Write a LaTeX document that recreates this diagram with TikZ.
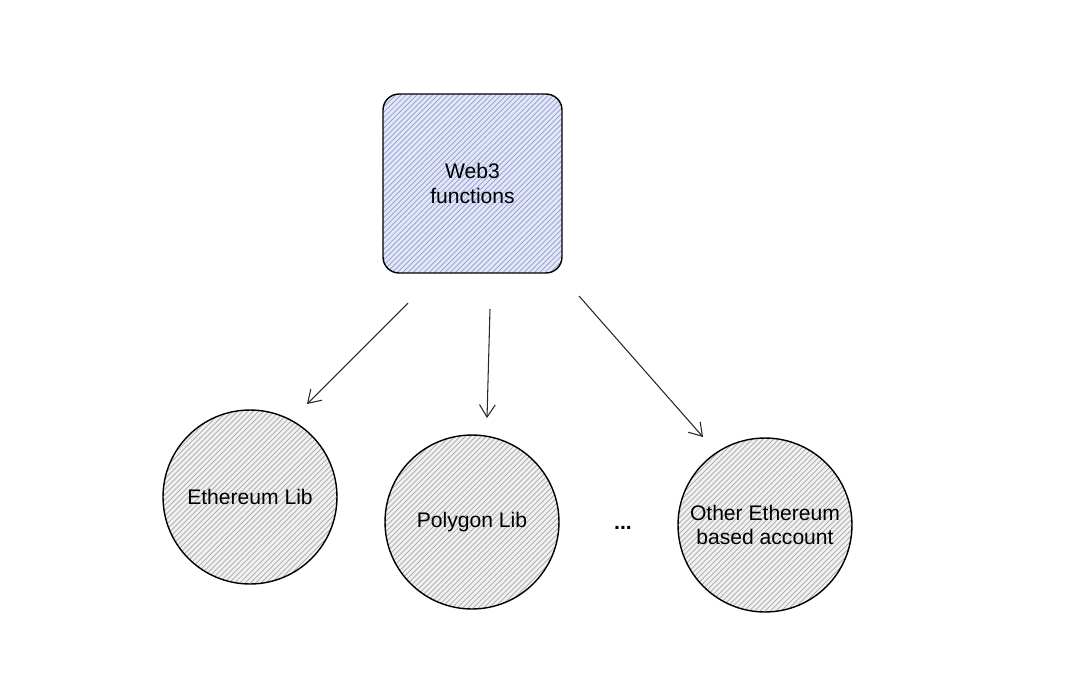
\documentclass[tikz,border=0pt]{standalone}
\usepackage{fontspec}
\setmainfont{Liberation Sans}
\usetikzlibrary{arrows.meta,patterns}

\definecolor{boxfill}{HTML}{E4E7F6}
\definecolor{boxhatch}{HTML}{8E9AD8}
\definecolor{libfill}{HTML}{F1F1F1}
\definecolor{libhatch}{HTML}{A8A8A8}

\begin{document}
\begin{tikzpicture}[
    x=0.02cm, y=-0.02cm,
    block/.style={draw, rounded corners=0.32cm, line width=0.8pt, minimum width=3.58cm, minimum height=3.58cm,
        align=center, preaction={fill=boxfill}, pattern=north east lines, pattern color=boxhatch},
    lib/.style={draw, circle, line width=0.8pt, minimum size=3.48cm, inner sep=1pt, align=center,
        preaction={fill=libfill}, pattern=north east lines, pattern color=libhatch},
    arrow/.style={-{Straight Barb[length=7pt,width=9pt]}, line width=0.6pt, draw=black!85}
]
\useasboundingbox (0,0) rectangle (1080,691);

\node[block, font=\large] (web3) at (472.5,183.5) {Web3\\functions};

\node[lib, font=\large] (eth) at (250,497) {Ethereum Lib};
\node[lib, font=\large] (poly) at (472,522) {Polygon Lib};
\node[lib, font=\large] (other) at (765,525) {Other Ethereum\\based account};
\node[font=\large\bfseries] (dots) at (623,528) {...};

% free ends of the arrows
\coordinate (a1) at (408,303);
\coordinate (b1) at (307,404);
\coordinate (a2) at (490,309);
\coordinate (b2) at (487,418);
\coordinate (a3) at (579,296);
\coordinate (b3) at (703,437);

\draw[arrow] (a1) -- (b1);
\draw[arrow] (a2) -- (b2);
\draw[arrow] (a3) -- (b3);
\end{tikzpicture}
\end{document}
